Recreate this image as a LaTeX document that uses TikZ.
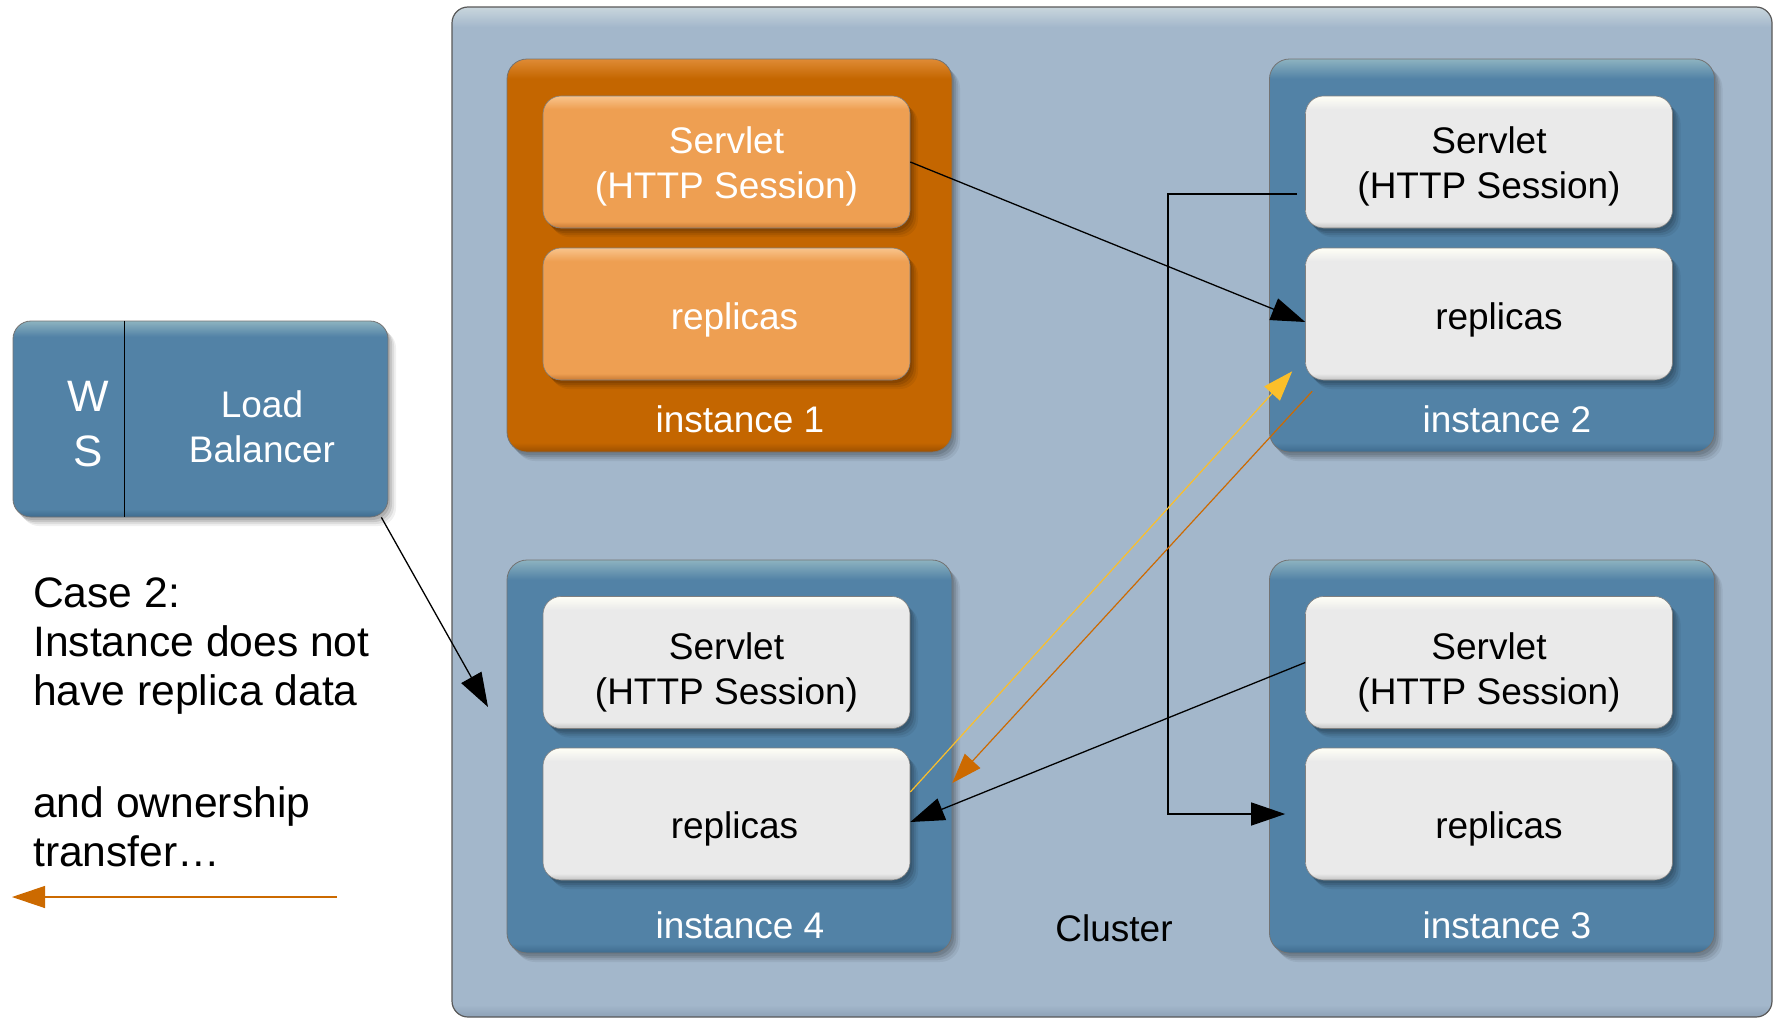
\documentclass[tikz,border=0pt]{standalone}
\usepackage{fontspec}
\setmainfont{Liberation Sans}
\usetikzlibrary{arrows.meta}
\definecolor{clBase}{HTML}{A3B7CB}
\definecolor{clLight}{HTML}{C9D6DD}
\definecolor{clDark}{HTML}{8DA1B6}
\definecolor{bBase}{HTML}{5282A6}
\definecolor{bLight}{HTML}{8DB3C0}
\definecolor{bDark}{HTML}{3E6B8E}
\definecolor{oBase}{HTML}{C46600}
\definecolor{oLight}{HTML}{DF8B35}
\definecolor{oDark}{HTML}{9C5000}
\definecolor{iBase}{HTML}{EE9F52}
\definecolor{iLight}{HTML}{F9C48C}
\definecolor{iDark}{HTML}{C87A34}
\definecolor{wBase}{HTML}{EAEAEA}
\definecolor{wLight}{HTML}{FFFFF6}
\definecolor{wDark}{HTML}{C4C4C4}
\definecolor{yelC}{HTML}{FBBF2A}
\definecolor{orgC}{HTML}{CC6A00}
\pgfdeclareverticalshading{instBlue}{100bp}{color(0bp)=(bDark); color(25bp)=(bDark); color(26.2bp)=(bBase); color(72.5bp)=(bBase); color(75bp)=(bLight); color(100bp)=(bLight)}
\pgfdeclareverticalshading{instOrange}{100bp}{color(0bp)=(oDark); color(25bp)=(oDark); color(26.2bp)=(oBase); color(72.5bp)=(oBase); color(75bp)=(oLight); color(100bp)=(oLight)}
\pgfdeclareverticalshading{boxWhite}{100bp}{color(0bp)=(wDark); color(25bp)=(wDark); color(27.5bp)=(wBase); color(70bp)=(wBase); color(75bp)=(wLight); color(100bp)=(wLight)}
\pgfdeclareverticalshading{boxOrange}{100bp}{color(0bp)=(iDark); color(25bp)=(iDark); color(27.5bp)=(iBase); color(70bp)=(iBase); color(75bp)=(iLight); color(100bp)=(iLight)}
\pgfdeclareverticalshading{lbBlue}{100bp}{color(0bp)=(bDark); color(25bp)=(bDark); color(27bp)=(bBase); color(71bp)=(bBase); color(75bp)=(bLight); color(100bp)=(bLight)}
\pgfdeclareverticalshading{clShade}{100bp}{color(0bp)=(clDark); color(25bp)=(clDark); color(25.6bp)=(clBase); color(74bp)=(clBase); color(75bp)=(clLight); color(100bp)=(clLight)}
\begin{document}
\begin{tikzpicture}[x=1pt,y=-1pt,
  fnt/.style={font=\fontsize{37}{45}\selectfont},
  softshadow/.style={
    preaction={fill=black, fill opacity=0.10, transform canvas={xshift=2pt,yshift=-3pt}},
    preaction={fill=black, fill opacity=0.10, transform canvas={xshift=4pt,yshift=-5pt}},
    preaction={fill=black, fill opacity=0.08, transform canvas={xshift=6pt,yshift=-7pt}},
    preaction={fill=black, fill opacity=0.06, transform canvas={xshift=8pt,yshift=-9pt}}},
  cluster/.style={rounded corners=16pt, draw=black!65, line width=1.2pt, shade, shading=clShade, inner sep=0pt, minimum width=1320pt, minimum height=1010pt},
  inst/.style={rounded corners=20pt, inner sep=0pt, minimum width=445pt, minimum height=393pt, softshadow, shade, shading=#1, draw=black!55, line width=0.8pt},
  inbox/.style={rounded corners=18pt, inner sep=0pt, minimum width=367pt, minimum height=132pt, softshadow, shade, shading=#1, draw=black!50, line width=0.6pt},
  wtxt/.style={fnt, text=white, align=center},
  btxt/.style={fnt, text=black, align=center},
  wlab/.style={fnt, text=white, inner sep=0pt},
  casetxt/.style={font=\fontsize{42.6}{49}\selectfont, align=left, anchor=north west, inner sep=0pt},
  arr/.style={line width=1.3pt, draw=black, -{Triangle[length=34pt,width=23pt]}},
  yarr/.style={draw=yelC, line width=1.2pt, -{Triangle[length=30pt,width=21pt]}},
  oarr/.style={draw=orgC, line width=1.2pt, -{Triangle[length=30pt,width=21pt]}},
  barr/.style={draw=orgC, line width=1.2pt, -{Triangle[length=33pt,width=22pt]}}
]
\useasboundingbox (0,0) rectangle (1774,1020);
\fill[white] (0,0) rectangle (1774,1020);

% cluster
\node[cluster] (cl) at (1112,512) {};
\node[fnt, anchor=base, inner sep=0pt] (cllbl) at (1114,941) {Cluster};

% instances
\node[inst=instOrange] (i1) at (729.5,255.5) {};
\node[inst=instBlue] (i2) at (1492,255.5) {};
\node[inst=instBlue] (i4) at (729.5,756.5) {};
\node[inst=instBlue] (i3) at (1492,756.5) {};

\node[wlab, anchor=base] (l1) at (740,432) {instance 1};
\node[wlab, anchor=base] (l2) at (1507,432) {instance 2};
\node[wlab, anchor=base] (l4) at (740,938) {instance 4};
\node[wlab, anchor=base] (l3) at (1507,938) {instance 3};

% inner boxes
\node[inbox=boxOrange, label={[wtxt,yshift=-4pt]center:{Servlet\\(HTTP Session)}}] (s1) at (726.5,162) {};
\node[inbox=boxOrange, label={[wtxt,yshift=-6pt,xshift=8pt]center:replicas}] (r1) at (726.5,314) {};
\node[inbox=boxWhite, label={[btxt,yshift=-4pt]center:{Servlet\\(HTTP Session)}}] (s2) at (1489,162) {};
\node[inbox=boxWhite, label={[btxt,yshift=-6pt,xshift=10pt]center:replicas}] (r2) at (1489,314) {};
\node[inbox=boxWhite, label={[btxt,yshift=-10pt]center:{Servlet\\(HTTP Session)}}] (s4) at (726.5,662.5) {};
\node[inbox=boxWhite, label={[btxt,yshift=-15pt,xshift=8pt]center:replicas}] (r4) at (726.5,814) {};
\node[inbox=boxWhite, label={[btxt,yshift=-10pt]center:{Servlet\\(HTTP Session)}}] (s3) at (1489,662.5) {};
\node[inbox=boxWhite, label={[btxt,yshift=-15pt,xshift=10pt]center:replicas}] (r3) at (1489,814) {};

% load balancer
\node[rounded corners=18pt, inner sep=0pt, minimum width=375pt, minimum height=196pt, softshadow, shade, shading=lbBlue, draw=black!55, line width=0.8pt] (lb) at (200.5,419) {};
\draw[line width=1pt] ([xshift=112pt]lb.north west) -- ([xshift=112pt]lb.south west);
\node[font=\fontsize{44}{55}\selectfont, text=white, align=center, inner sep=0pt] (ws) at (88,424) {W\\S};
\node[wtxt, inner sep=0pt] (lbt) at (262,427) {Load\\Balancer};

% case text
\node[casetxt] (case) at (33,578) {Case 2:\\Instance does not\\have replica data};
\node[casetxt] (own) at (33,786) {and ownership\\transfer…};

% connectors
\coordinate (a1s) at ([xshift=-7pt]lb.south east);
\coordinate (a1t) at (488,707);
\draw[arr] (a1s) -- (a1t);

\draw[arr] (s1.east) -- ([yshift=-8pt]r2.west);

\coordinate (e1) at ([xshift=-8pt,yshift=-32pt]s2.west);
\coordinate (ex) at (1168,0);
\draw[arr] (e1) -| (ex |- r3.west) -- ([xshift=-20pt]r3.west);

\draw[arr] (s3.west) -- ([yshift=-8pt]r4.east);
\draw[yarr] ([yshift=22pt]r4.east) -- ([xshift=-13pt,yshift=9pt]r2.south west);
\draw[oarr] ([xshift=7pt,yshift=-11pt]r2.south west) -- ([xshift=42pt,yshift=31pt]r4.east);

\coordinate (b1) at (337,897);
\coordinate (b2) at (12,897);
\draw[barr] (b1) -- (b2);
\end{tikzpicture}
\end{document}
